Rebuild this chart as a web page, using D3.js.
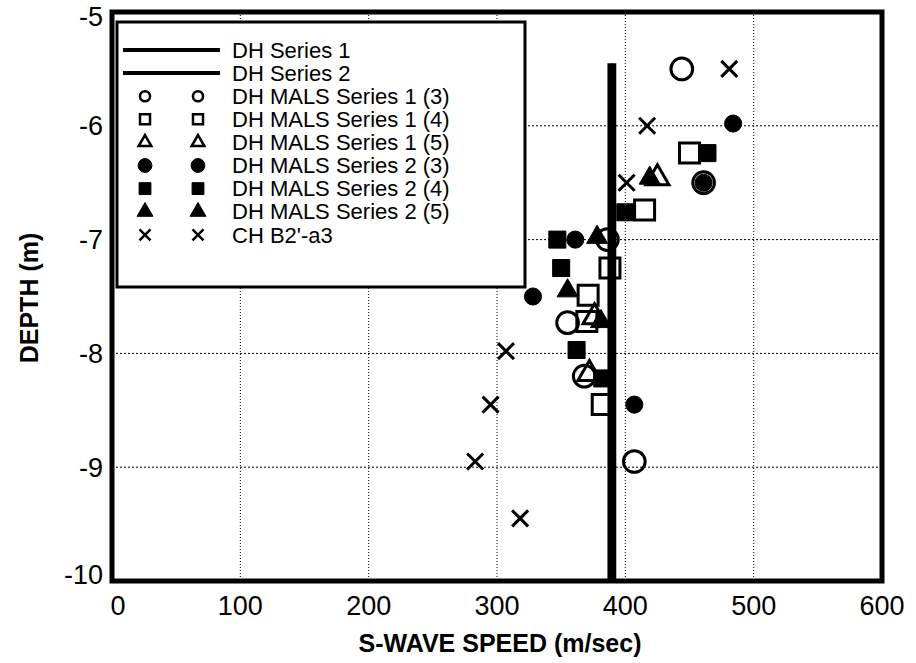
<!DOCTYPE html>
<html>
<head>
<meta charset="utf-8">
<script src="https://cdn.jsdelivr.net/npm/d3@7"></script>
<style>
	body { margin: 0; background: #fff; }
	text { font-family: "Liberation Sans", Arial, sans-serif; fill: #000; }
</style>
</head>
<body>
<svg width="916" height="663"></svg>
<script>
// values: [speed m/s, depth m]
const xTicks = [0, 100, 200, 300, 400, 500, 600];
const yTicks = [-10, -9, -8, -7, -6, -5];
const dhSeries1 = [[388, -5.45], [388, -10]];
const dhSeries2 = [[391, -5.45], [391, -10]];
const mals1_3 = [[444, -5.5], [461, -6.5], [386, -7.0], [355, -7.73], [368, -8.2], [407, -8.95]];
const mals1_4 = [[450, -6.24], [415, -6.74], [388, -7.25], [371, -7.49], [370, -7.72], [382, -8.45]];
const mals1_5 = [[425, -6.46], [376, -7.68], [372, -8.18]];
const mals2_3 = [[484, -5.98], [461, -6.5], [361, -7.0], [328, -7.5], [407, -8.45]];
const mals2_4 = [[464, -6.24], [400, -6.76], [347, -7.0], [350, -7.25], [362, -7.97], [382, -8.22]];
const mals2_5 = [[419, -6.46], [378, -6.98], [355, -7.45], [381, -7.72]];
const chB2 = [[481, -5.5], [417, -6.0], [401, -6.5], [307, -7.98], [295, -8.45], [283, -8.95], [318, -9.45]];
const legendLabels = ["DH Series 1", "DH Series 2", "DH MALS Series 1 (3)", "DH MALS Series 1 (4)",
	"DH MALS Series 1 (5)", "DH MALS Series 2 (3)", "DH MALS Series 2 (4)", "DH MALS Series 2 (5)", "CH B2'-a3"];

const svg = d3.select("svg");
const x = d3.scaleLinear().domain([0, 600]).range([112, 882]);
const y = d3.scaleLinear().domain([-10, -5]).range([581, 12]);

// dotted grid
const grid = svg.append("g").attr("class", "grid");
grid.selectAll("line.gx")
	.data(xTicks.slice(1, -1))
	.enter()
	.append("line")
		.attr("x1", d => x(d)).attr("x2", d => x(d))
		.attr("y1", y(-5)).attr("y2", y(-10))
		.attr("stroke", "#000").attr("stroke-width", 1).attr("stroke-dasharray", "1,2");
grid.selectAll("line.gy")
	.data(yTicks.slice(1, -1))
	.enter()
	.append("line")
		.attr("x1", x(0)).attr("x2", x(600))
		.attr("y1", d => y(d)).attr("y2", d => y(d))
		.attr("stroke", "#000").attr("stroke-width", 1).attr("stroke-dasharray", "2,2");

// DH lines
const line = d3.line().x(d => x(d[0])).y(d => y(d[1]));
[dhSeries1, dhSeries2].forEach(s => {
	svg.append("path").attr("d", line(s)).attr("stroke", "#000").attr("stroke-width", 5).attr("fill", "none");
});

// marker styles
const styles = [
	{ data: mals1_3, type: d3.symbolCircle, size: 370, fill: "none", lsize: 80 },
	{ data: mals1_4, type: d3.symbolSquare, size: 400, fill: "none", lsize: 100 },
	{ data: mals1_5, type: d3.symbolTriangle, size: 230, fill: "none", lsize: 70 },
	{ data: mals2_3, type: d3.symbolCircle, size: 230, fill: "#000", lsize: 150 },
	{ data: mals2_4, type: d3.symbolSquare, size: 290, fill: "#000", lsize: 140 },
	{ data: mals2_5, type: d3.symbolTriangle, size: 190, fill: "#000", lsize: 110 },
	{ data: chB2, type: "x", size: 8, fill: "none", lsize: 5.5 }
];

function markerPath(st, size) {
	if (st.type === "x") {
		const h = size;
		return `M${-h},${-h}L${h},${h}M${-h},${h}L${h},${-h}`;
	}
	return d3.symbol().type(st.type).size(size)();
}

const marks = svg.append("g").attr("class", "marks");
styles.forEach(st => {
	marks.selectAll(null)
		.data(st.data)
		.enter()
		.append("path")
			.attr("transform", d => `translate(${x(d[0])},${y(d[1])})`)
			.attr("d", markerPath(st, st.size))
			.attr("fill", st.fill)
			.attr("stroke", "#000")
			.attr("stroke-width", st.fill === "none" ? 3 : 1);
});

// frame
svg.append("rect")
	.attr("x", x(0)).attr("y", y(-5))
	.attr("width", x(600) - x(0)).attr("height", y(-10) - y(-5))
	.attr("fill", "none").attr("stroke", "#000").attr("stroke-width", 5);

// legend
const legend = svg.append("g").attr("class", "legend");
legend.append("rect")
	.attr("x", 117).attr("y", 22).attr("width", 408).attr("height", 265)
	.attr("fill", "#fff").attr("stroke", "#000").attr("stroke-width", 3);
const rowY = i => 50 + i * 23.1;
legend.selectAll("text")
	.data(legendLabels)
	.enter()
	.append("text")
		.text(d => d)
		.attr("x", 232)
		.attr("y", (d, i) => rowY(i))
		.attr("dy", "0.35em")
		.attr("font-size", "22px");
[0, 1].forEach(i => {
	legend.append("line")
		.attr("x1", 123).attr("x2", 220)
		.attr("y1", rowY(i)).attr("y2", rowY(i))
		.attr("stroke", "#000").attr("stroke-width", 4);
});
styles.forEach((st, k) => {
	[145, 198].forEach(cx => {
		legend.append("path")
			.attr("transform", `translate(${cx},${rowY(k + 2)})`)
			.attr("d", markerPath(st, st.lsize))
			.attr("fill", st.fill)
			.attr("stroke", "#000")
			.attr("stroke-width", st.fill === "none" ? 2.5 : 1);
	});
});

// tick labels
svg.selectAll("text.xt")
	.data(xTicks)
	.enter()
	.append("text")
		.attr("class", "xt")
		.text(d => d)
		.attr("x", d => x(d) + (d === 0 ? 6 : 0))
		.attr("y", 615)
		.attr("text-anchor", "middle")
		.attr("font-size", "27px");
svg.selectAll("text.yt")
	.data(yTicks)
	.enter()
	.append("text")
		.attr("class", "yt")
		.text(d => d)
		.attr("x", 103)
		.attr("y", d => y(d) + (d === -10 ? -6 : d === -5 ? 5 : 0))
		.attr("dy", "0.35em")
		.attr("text-anchor", "end")
		.attr("font-size", "27px");

// axis titles
svg.append("text")
	.text("S-WAVE SPEED (m/sec)")
	.attr("x", 500).attr("y", 652)
	.attr("text-anchor", "middle")
	.attr("font-size", "25px").attr("font-weight", "bold");
svg.append("text")
	.text("DEPTH (m)")
	.attr("transform", "translate(38,298) rotate(-90)")
	.attr("text-anchor", "middle")
	.attr("font-size", "25px").attr("font-weight", "bold");
</script>
</body>
</html>
